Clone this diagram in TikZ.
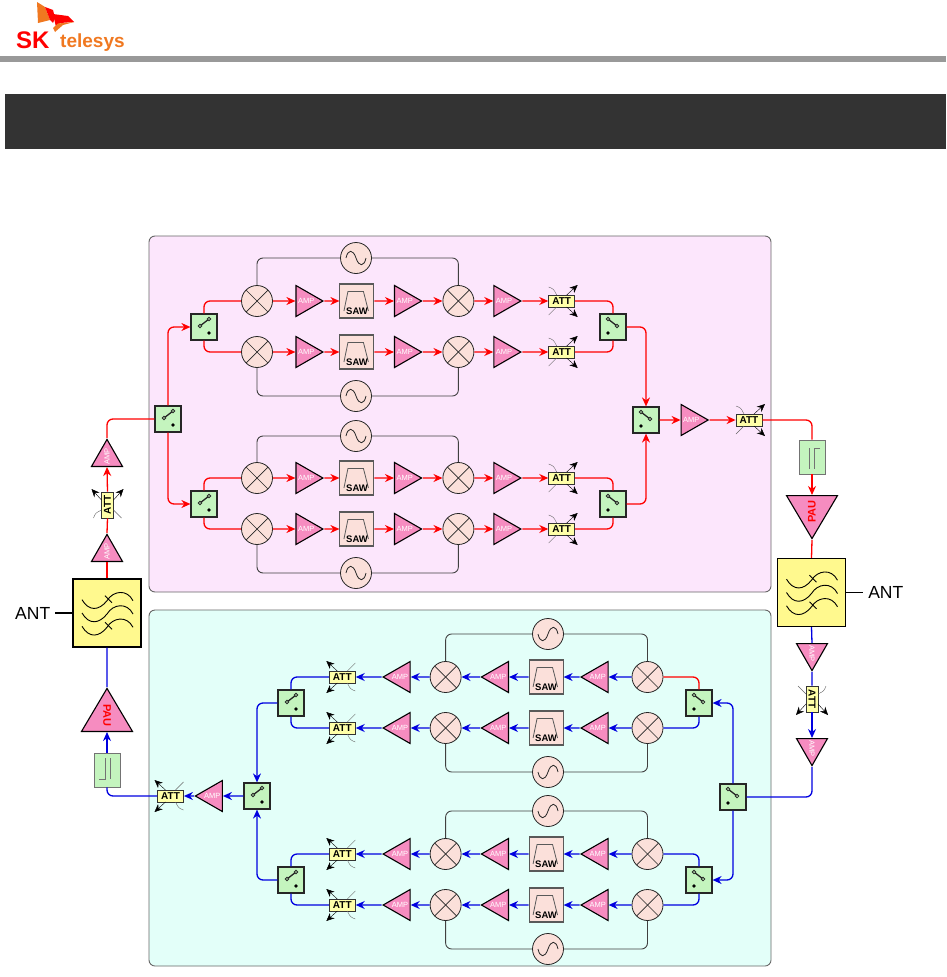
\documentclass[tikz,border=0pt]{standalone}
\usepackage{fontspec}
\setmainfont{Liberation Sans}
\usetikzlibrary{arrows.meta, positioning, shapes.geometric, calc}

\definecolor{wirered}{HTML}{FF0000}
\definecolor{wireblue}{HTML}{0000E0}
\definecolor{panelpink}{HTML}{FCE6FC}
\definecolor{panelcyan}{HTML}{E3FFF9}
\definecolor{ampfill}{HTML}{F68CC0}
\definecolor{swfill}{HTML}{C4F4BE}
\definecolor{attfill}{HTML}{FFFFA8}
\definecolor{fltfill}{HTML}{FFF98E}
\definecolor{mixfill}{HTML}{FBE0DA}
\definecolor{logoorange}{HTML}{F07820}

\tikzset{
  attx/.pic={
    \draw[black!60, thin] (-13,-14) .. controls (-8,-12) .. (-5,-6);
    \draw[black!60, thin] (-13,14) -- (-5,6);
    \draw[thin, -{Stealth[length=8pt,width=7pt]}] (5,-6) -- (16,-16);
    \draw[thin, -{Stealth[length=8pt,width=7pt]}] (5,6) -- (16,16);
  }
}

\begin{document}
\begin{tikzpicture}[
    x=1pt, y=-1pt, >={Stealth[length=9pt,width=8pt]},
    redwire/.style={draw=wirered, line width=1.3pt, rounded corners=6pt},
    bluewire/.style={draw=wireblue, line width=1.3pt, rounded corners=6pt},
    loline/.style={draw=black!75, line width=0.9pt, rounded corners=6pt},
    panel/.style={draw=black!60, line width=0.9pt, rounded corners=6pt},
    ampbox/.style={isosceles triangle, isosceles triangle stretches,
        minimum height=27pt, minimum width=31pt, inner sep=0pt, draw=black,
        line width=1.1pt, fill=ampfill, text=white,
        font=\fontsize{7.5}{8}\selectfont},
    ampleft/.style={ampbox, shape border rotate=180},
    paubox/.style={ampbox, shape border rotate=180, minimum height=43pt,
        minimum width=51pt, text=wirered, font=\fontsize{11}{11}\bfseries},
    attbox/.style={draw=black!80, line width=0.8pt, fill=attfill, minimum width=26pt,
        minimum height=12pt, inner sep=0pt, font=\fontsize{10}{10}\bfseries},
    swbox/.style={draw=black!85, line width=1.2pt, fill=swfill, minimum size=26pt,
        inner sep=0pt, path picture={
          \begin{scope}[shift={(path picture bounding box.center)}]
            \draw[line width=1.3pt] (#1*-4,-1) -- (#1*5,-8);
            \draw[line width=0.8pt, fill=swfill] (#1*-4,-1) circle (1.8) (#1*5,-8) circle (1.8);
            \fill[black] (#1*5,6) circle (1.9);
          \end{scope}}},
    mixbox/.style={circle, draw=black!85, line width=0.8pt, fill=mixfill,
        minimum size=31pt, inner sep=0pt, path picture={
          \draw[line width=0.7pt] (path picture bounding box.center) ++(-11.5,-11.5) -- ++(23,23);
          \draw[line width=0.7pt] (path picture bounding box.center) ++(-11.5,11.5) -- ++(23,-23);}},
    oscbox/.style={circle, draw=black!85, line width=0.8pt, fill=mixfill,
        minimum size=31pt, inner sep=0pt, path picture={
          \begin{scope}[shift={(path picture bounding box.center)}]
            \draw[line width=0.8pt]
              (-10,0) .. controls (-8,#1*-9) and (-3,#1*-9) .. (0,0)
              .. controls (3,#1*9) and (8,#1*9) .. (10,0);
          \end{scope}}},
    sawbox/.style={draw=black!65, line width=1.1pt, fill=mixfill, minimum size=34pt,
        inner sep=0pt, path picture={
          \draw[line width=0.8pt, shift={(path picture bounding box.center)}]
            (-13,10) -- (-9,-9.5) -- (6.5,-9.5) -- (11.5,10);}},
    sawtext/.style={inner sep=0pt, anchor=base, font=\fontsize{9.5}{10}\bfseries},
    capbox/.style={draw=black!55, line width=0.8pt, fill=swfill, minimum width=26pt,
        minimum height=34pt, path picture={
          \begin{scope}[shift={(path picture bounding box.center)}]
            \draw[line width=0.7pt]
              (#1*-8,#1*9) -- (#1*-2,#1*9) -- (#1*-2,#1*-12) (#1*3,#1*-12) -- (#1*3,#1*9);
          \end{scope}}},
    fltbox/.style={draw=black, line width=1.2pt, fill=fltfill, minimum size=68pt,
        inner sep=0pt, path picture={
          \begin{scope}[shift={(path picture bounding box.center)}]
            \foreach \k in {-13.3,0,13.3}
              \draw[line width=0.9pt]
                (-25,\k) .. controls (-18,\k+12) and (-8,\k+11) .. (0,\k+1)
                .. controls (6,\k-9) and (20,\k-11) .. (26,\k+1);
            \foreach \k in {-13.3,13.3}
              \draw[line width=0.9pt] (-2,\k-4) -- (5,\k+3);
          \end{scope}}},
    antlabel/.style={inner sep=5pt, font=\fontsize{17.5}{18}\selectfont}
  ]
  \useasboundingbox (0,0) rectangle (946,977);

  % header
  \fill[black!40] (0,56) rectangle (946,62);
  \fill[black!80] (5,94) rectangle (946,149);
  \fill[logoorange] (37,2) -- (45,7) -- (50,20) -- (38,23) -- cycle;
  \fill[wirered] (45,7) -- (53,10) -- (55,18) -- (53,23) -- (50,20) -- cycle;
  \fill[wirered] (53,14) -- (68,16) -- (74,22) -- (60,23) -- (56,27) -- cycle;
  \fill[logoorange] (74,22) -- (63,25) -- (55,32) -- (53,28) -- (58,23.5) -- cycle;
  \node[anchor=base west, inner sep=0pt, text=wirered, font=\fontsize{24}{24}\bfseries] (logosk) at (16,48) {SK};
  \node[anchor=base west, inner sep=0pt, text=logoorange, font=\fontsize{19}{20}\bfseries] (logotele) at (60,47) {telesys};

  % panels
  \draw[panel, fill=panelpink] (149,236) rectangle (771,592);
  \draw[panel, fill=panelcyan] (149,610) rectangle (771,966);

  % transmit rows
  \foreach \r/\y in {a/301, b/352, c/478, d/529} {
    \node[mixbox] (mixin\r) at (257,\y) {};
    \node[ampbox, right=22.5pt of mixin\r] (ampa\r) {AMP};
    \node[sawbox, right=15pt of ampa\r] (saw\r) {};
    \node[sawtext] (sawt\r) at (357,\y+13) {SAW};
    \node[ampbox, right=19.5pt of saw\r] (ampb\r) {AMP};
    \node[mixbox, right=19.5pt of ampb\r] (mixout\r) {};
    \node[ampbox, right=19pt of mixout\r] (ampc\r) {AMP};
    \node[attbox, right=26pt of ampc\r] (att\r) {ATT};
    \pic at (att\r) {attx};
    \draw[redwire, ->] (mixin\r) -- (ampa\r);
    \draw[redwire, ->] (ampa\r.apex) -- (saw\r);
    \draw[redwire, ->] (saw\r) -- (ampb\r);
    \draw[redwire, ->] (ampb\r.apex) -- (mixout\r);
    \draw[redwire, ->] (mixout\r) -- (ampc\r);
    \draw[redwire, ->] (ampc\r.apex) -- (att\r);
  }
  \foreach \r/\a/\y in {a/north/258, b/south/396, c/north/436, d/south/573} {
    \node[oscbox=1] (lo\r) at (356,\y) {};
    \draw[loline] (mixin\r.\a) |- (lo\r.west);
    \draw[loline] (lo\r.east) -| (mixout\r.\a);
  }

  % transmit switches
  \node[swbox=1] (rootl) at (168,419) {};
  \node[swbox=1] (swab) at (204,327) {};
  \node[swbox=1] (swcd) at (204,504) {};
  \node[swbox=-1] (swabo) at (613,327) {};
  \node[swbox=-1] (swcdo) at (613,504) {};
  \node[swbox=-1] (mainsw) at (646,420) {};
  \node[ampbox, right=21pt of mainsw] (mainamp) {AMP};
  \node[attbox, right=26pt of mainamp] (mainatt) {ATT};
  \pic at (mainatt) {attx};
  \draw[redwire, ->] (rootl.north) |- (swab.west);
  \draw[redwire, ->] (rootl.south) |- (swcd.west);
  \draw[redwire] (swab.north) |- (mixina.west);
  \draw[redwire] (swab.south) |- (mixinb.west);
  \draw[redwire] (swcd.north) |- (mixinc.west);
  \draw[redwire] (swcd.south) |- (mixind.west);
  \draw[redwire] (atta.east) -| (swabo.north);
  \draw[redwire] (attb.east) -| (swabo.south);
  \draw[redwire] (attc.east) -| (swcdo.north);
  \draw[redwire] (attd.east) -| (swcdo.south);
  \draw[redwire, ->] (swabo.east) -| (mainsw.north);
  \draw[redwire, ->] (swcdo.east) -| (mainsw.south);
  \draw[redwire, ->] (mainsw) -- (mainamp);
  \draw[redwire, ->] (mainamp.apex) -- (mainatt);

  % receive rows
  \foreach \r/\y in {e/677, f/728, g/854, h/905} {
    \node[mixbox] (mixin\r) at (647.5,\y) {};
    \node[ampleft, left=23pt of mixin\r] (ampa\r) {AMP};
    \node[sawbox, left=16pt of ampa\r] (saw\r) {};
    \node[sawtext] (sawt\r) at (546,\y+13) {SAW};
    \node[ampleft, left=19.5pt of saw\r] (ampb\r) {AMP};
    \node[mixbox, left=18.5pt of ampb\r] (mixout\r) {};
    \node[ampleft, left=19pt of mixout\r] (ampc\r) {AMP};
    \node[attbox, left=26pt of ampc\r] (att\r) {ATT};
    \pic[rotate=180] at (att\r) {attx};
    \draw[bluewire, ->] (mixin\r) -- (ampa\r);
    \draw[bluewire, ->] (ampa\r.apex) -- (saw\r);
    \draw[bluewire, ->] (saw\r) -- (ampb\r);
    \draw[bluewire, ->] (ampb\r.apex) -- (mixout\r);
    \draw[bluewire, ->] (mixout\r) -- (ampc\r);
    \draw[bluewire, ->] (ampc\r.apex) -- (att\r);
  }
  \foreach \r/\a/\y in {e/north/634, f/south/772, g/north/811, h/south/949} {
    \node[oscbox=-1] (lo\r) at (548,\y) {};
    \draw[loline] (mixout\r.\a) |- (lo\r.west);
    \draw[loline] (lo\r.east) -| (mixin\r.\a);
  }

  % receive switches
  \node[swbox=-1] (rootr) at (733,797) {};
  \node[swbox=-1] (swef) at (699,703) {};
  \node[swbox=-1] (swgh) at (699,880) {};
  \node[swbox=1] (swefo) at (291,703) {};
  \node[swbox=1] (swgho) at (291,880) {};
  \node[swbox=1] (mainrx) at (257,796) {};
  \node[ampleft, left=20.5pt of mainrx] (rxamp) {AMP};
  \node[attbox, left=10pt of rxamp] (rxatt) {ATT};
  \pic[rotate=180] at (rxatt) {attx};
  \draw[bluewire, ->] (rootr.north) |- (swef.east);
  \draw[bluewire, ->] (rootr.south) |- (swgh.east);
  \draw[redwire] (mixine.east) -| (swef.north);
  \draw[bluewire] (mixinf.east) -| (swef.south);
  \draw[bluewire] (mixing.east) -| (swgh.north);
  \draw[bluewire] (mixinh.east) -| (swgh.south);
  \draw[bluewire] (atte.west) -| (swefo.north);
  \draw[bluewire] (attf.west) -| (swefo.south);
  \draw[bluewire] (attg.west) -| (swgho.north);
  \draw[bluewire] (atth.west) -| (swgho.south);
  \draw[bluewire, ->] (swefo.west) -| (mainrx.north);
  \draw[bluewire, ->] (swgho.west) -| (mainrx.south);
  \draw[bluewire, ->] (mainrx) -- (rxamp);
  \draw[bluewire, ->] (rxamp.apex) -- (rxatt);

  % left column
  \node[fltbox] (fltl) at (107,613) {};
  \node[antlabel, left=17pt of fltl] (antl) {ANT};
  \node[ampbox, rotate=90, anchor=west] (lamp) at (107,562) {AMP};
  \node[attbox, rotate=90] (latt) at (107.5,505) {ATT};
  \pic[rotate=90] at (latt) {attx};
  \node[ampbox, rotate=90, anchor=west] (ltop) at (107,467) {AMP};
  \node[paubox, rotate=-90, anchor=east] (paul) at (107,732) {PAU};
  \node[capbox=1] (capl) at (107,770) {};
  \draw[line width=1.4pt] (fltl.west) -- (antl.east);
  \draw[redwire] (fltl.north) -- (lamp.west);
  \draw[redwire] (lamp.apex) -- (latt.west);
  \draw[redwire, ->] (latt.east) -- (ltop.west);
  \draw[redwire] (ltop.apex) |- (rootl.west);
  \draw[bluewire] (paul.west) -- (fltl.south);
  \draw[bluewire, ->] (capl.north) -- (paul.east);
  \draw[bluewire] (rxatt.west) -| (capl.south);

  % right column
  \node[capbox=-1] (capr) at (812,457) {};
  \node[paubox, rotate=90, anchor=east] (paur) at (812,495) {PAU};
  \node[fltbox] (fltr) at (811.5,592.5) {};
  \node[antlabel, right=17pt of fltr] (antr) {ANT};
  \node[ampbox, rotate=-90, anchor=west] (ramp) at (812,643) {AMP};
  \node[attbox, rotate=-90] (ratt) at (812,699) {ATT};
  \pic[rotate=-90] at (ratt) {attx};
  \node[ampbox, rotate=-90, anchor=west] (rbot) at (812,738) {AMP};
  \draw[redwire] (mainatt.east) -| (capr.north);
  \draw[redwire, ->] (capr.south) -- (paur.east);
  \draw[redwire] (paur.west) -- (fltr.north);
  \draw[line width=1.4pt] (fltr.east) -- (antr.west);
  \draw[bluewire] (fltr.south) -- (ramp.west);
  \draw[bluewire] (ramp.apex) -- (ratt.west);
  \draw[bluewire, ->] (ratt.east) -- (rbot.west);
  \draw[bluewire] (rbot.apex) |- (rootr.east);
\end{tikzpicture}
\end{document}
